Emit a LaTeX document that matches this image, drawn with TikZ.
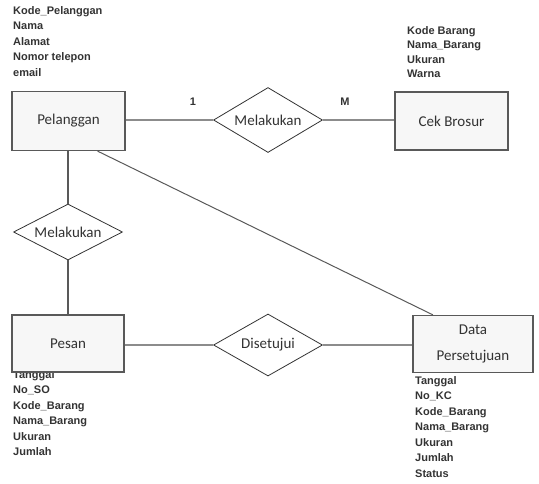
\documentclass[tikz,border=0pt]{standalone}
\usepackage{fontspec}
\setmainfont{Carlito}
\newfontfamily\attrfont{Liberation Sans}
\usepackage{tikz}
\usetikzlibrary{positioning,shapes.geometric}
\definecolor{garis}{HTML}{8C8C8C}
\definecolor{tepi}{HTML}{595959}
\definecolor{teks}{HTML}{333333}

\begin{document}
\begin{tikzpicture}[x=1pt,y=-1pt,
  entitas/.style={draw=tepi,line width=1.3pt,fill=gray!6,minimum width=113pt,minimum height=59pt,align=center,text=teks,font=\fontsize{15}{18}\selectfont},
  relasi/.style={diamond,shape aspect=2,draw=black!80,line width=0.8pt,fill=white,inner sep=0pt,minimum width=109pt,minimum height=62pt,text=teks,font=\fontsize{15}{18}\selectfont},
  atribut/.style={inner sep=0pt,anchor=north west,align=left,text=teks,font=\attrfont\bfseries\fontsize{11}{15.5}\selectfont},
  hub/.style={draw=garis,line width=1.8pt},
  kard/.style={text=teks,font=\attrfont\bfseries\fontsize{11}{13}\selectfont}
]
\useasboundingbox (0,0) rectangle (539,483);
% atribut
\node[atribut] (atrPelanggan) at (13,6) {Kode\_Pelanggan\\Nama\\Alamat\\Nomor telepon\\email};
\node[atribut,font=\attrfont\bfseries\fontsize{11}{14.5}\selectfont] (atrCek) at (407,26) {Kode Barang\\Nama\_Barang\\Ukuran\\Warna};
\node[atribut] (atrPesan) at (13,370) {Tanggal\\No\_SO\\Kode\_Barang\\Nama\_Barang\\Ukuran\\Jumlah};
\node[atribut] (atrData) at (415,376) {Tanggal\\No\_KC\\Kode\_Barang\\Nama\_Barang\\Ukuran\\Jumlah\\Status};
% entitas
\node[entitas] (pelanggan) at (68.5,121) {Pelanggan};
\node[entitas,minimum height=58pt] (cek) at (451.5,121) {Cek Brosur};
\node[entitas,minimum width=112pt,minimum height=57pt] (pesan) at (68,343.5) {Pesan};
\node[entitas,minimum width=120pt,minimum height=57pt] (data) at (473,344) {Data\\[8pt]Persetujuan};
% relasi
\node[relasi,minimum height=65pt] (melakukan1) at (268,120) {Melakukan};
\node[relasi,minimum height=56pt] (melakukan2) at (68,232) {Melakukan};
\node[relasi] (disetujui) at (268,345) {Disetujui};
% kardinalitas
\node[kard] (satu) at (193,102) {1};
\node[kard] (banyak) at (345,102) {M};
% garis
\draw[hub] (pelanggan.east |- melakukan1.west) -- (melakukan1.west);
\draw[hub] (melakukan1.east) -- (cek.west |- melakukan1.east);
\draw[hub,draw=tepi,line width=1.5pt] (pelanggan.south -| melakukan2.north) -- (melakukan2.north);
\draw[hub,draw=tepi,line width=1.5pt] (melakukan2.south) -- (pesan.north -| melakukan2.south);
\draw[hub] (pesan.east |- disetujui.west) -- (disetujui.west);
\draw[hub] (disetujui.east) -- (data.west |- disetujui.east);
\draw[draw=tepi,line width=1pt] (pelanggan.-46.5) -- (data.144.5);
\end{tikzpicture}
\end{document}
